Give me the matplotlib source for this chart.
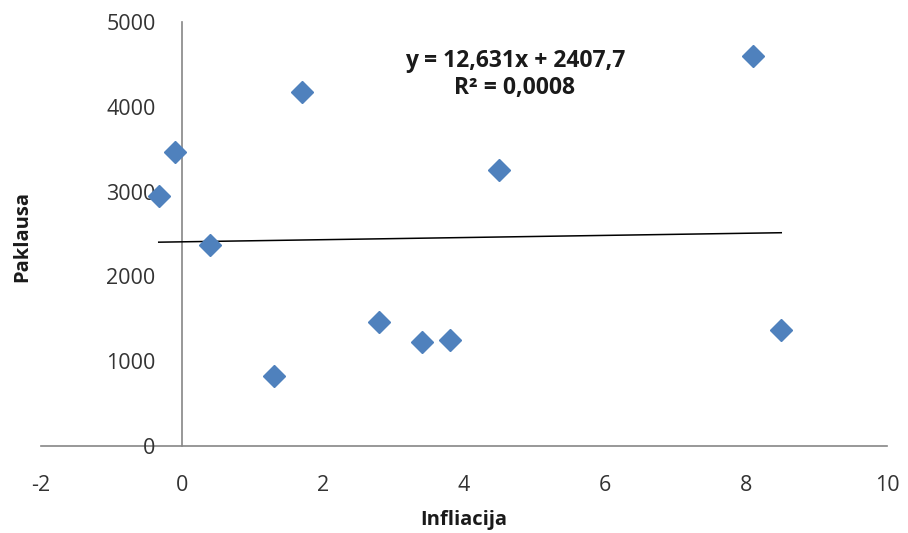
import matplotlib
matplotlib.use("Agg")
import matplotlib.pyplot as plt
import numpy as np

plt.rcParams['font.family'] = ['Open Sans', 'DejaVu Sans']

# Inflation (x) vs. demand (y)
infliacija = [-0.33, -0.1, 0.4, 1.3, 1.7, 2.8, 3.4, 3.8, 4.5, 8.1, 8.5]
paklausa = [2950, 3470, 2370, 820, 4180, 1460, 1230, 1250, 3260, 4600, 1370]

# Linear trend as reported in the label
slope = 12.631
intercept = 2407.7
r_squared = 0.0008

x_ticks = [-2, 0, 2, 4, 6, 8, 10]
y_ticks = [0, 1000, 2000, 3000, 4000, 5000]

fig = plt.figure(figsize=(9.08, 5.33), dpi=100)
ax = fig.add_axes([41 / 908, 87 / 533, 846 / 908, 424 / 533])

ax.set_xlim(-2, 10)
ax.set_ylim(0, 5000)
ax.set_xticks(x_ticks)
ax.set_yticks(y_ticks)
ax.set_xticklabels([str(v) for v in x_ticks])
ax.set_yticklabels([str(v) for v in y_ticks])

axis_grey = '#868686'
for side in ('top', 'right'):
    ax.spines[side].set_visible(False)
ax.spines['left'].set_position(('data', 0))
ax.spines['left'].set_color(axis_grey)
ax.spines['bottom'].set_color(axis_grey)
ax.spines['left'].set_linewidth(1.2)
ax.spines['bottom'].set_linewidth(1.2)
ax.spines['left'].set_zorder(1)
ax.spines['bottom'].set_zorder(1)

ax.tick_params(axis='x', length=0, pad=21, labelsize=15.5, labelcolor='#333333')
ax.tick_params(axis='y', length=0, pad=19, labelsize=15.5, labelcolor='#333333')

# Trend line across the data range
xs = np.array([min(infliacija), max(infliacija)])
ax.plot(xs, slope * xs + intercept, color='black', lw=1.1, zorder=2, clip_on=False)

ax.plot(infliacija, paklausa, linestyle='none', marker='D', markersize=11,
        color='#4F81BD', markeredgecolor='#4F81BD', zorder=3, clip_on=False)

eq = f"y = {slope:.3f}x + {intercept:.1f}".replace('.', ',')
r2 = f"R² = {r_squared:.4f}".replace('.', ',')
ax.text(4.72, 4378, eq + "\n" + r2, ha='center', va='center', fontsize=16.5,
        fontweight='bold', color='#1a1a1a', linespacing=1.15)

fig.text(464 / 908, 1 - 520 / 533, 'Infliacija', ha='center', va='center',
         fontsize=14.5, fontweight='bold', color='#1a1a1a')
fig.text(22 / 908, 1 - 236 / 533, 'Paklausa', ha='center', va='center',
         rotation=90, fontsize=14.5, fontweight='bold', color='#1a1a1a')

fig.savefig('out.png', dpi=100)
